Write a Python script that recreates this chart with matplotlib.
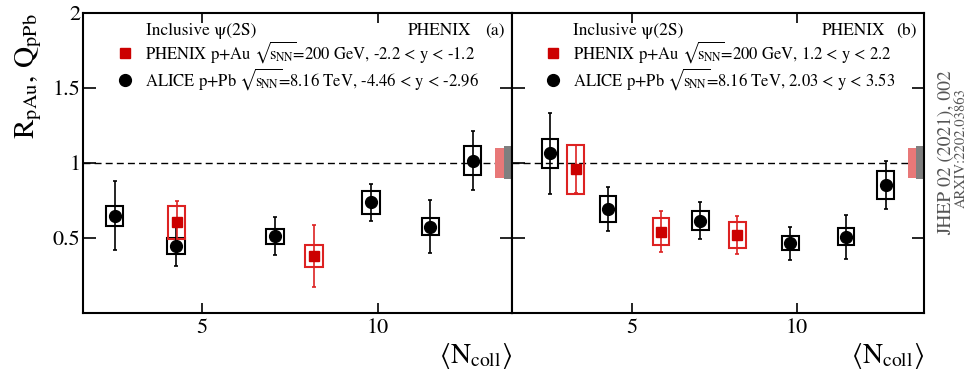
import matplotlib.pyplot as plt
import matplotlib.transforms as mtransforms
from matplotlib.patches import Rectangle

plt.rcParams['font.family'] = ['STIXGeneral', 'DejaVu Sans']
plt.rcParams['mathtext.fontset'] = 'stix'

# <Ncoll> bins shared by both ALICE rapidity ranges
alice_ncoll = [2.53, 4.28, 7.08, 9.81, 11.50, 12.70]

# (a) backward rapidity
alice_bwd_val = [0.649, 0.449, 0.513, 0.738, 0.576, 1.015]
alice_bwd_stat = [0.228, 0.136, 0.129, 0.124, 0.174, 0.198]
alice_bwd_syst = [0.067, 0.054, 0.050, 0.078, 0.054, 0.095]
phenix_bwd_ncoll = [4.29, 8.20]
phenix_bwd_val = [0.604, 0.380]
phenix_bwd_stat = [0.145, 0.204]
phenix_bwd_syst = [0.108, 0.071]

# (b) forward rapidity
alice_fwd_val = [1.064, 0.693, 0.616, 0.464, 0.509, 0.853]
alice_fwd_stat = [0.268, 0.148, 0.122, 0.109, 0.147, 0.159]
alice_fwd_syst = [0.097, 0.084, 0.062, 0.047, 0.056, 0.096]
phenix_fwd_ncoll = [3.30, 5.89, 8.20]
phenix_fwd_val = [0.958, 0.542, 0.520]
phenix_fwd_stat = [0.160, 0.137, 0.125]
phenix_fwd_syst = [0.165, 0.089, 0.086]

# global normalisation uncertainties
phenix_global = 0.10
alice_global = 0.11

y_ticks = [0.5, 1.0, 1.5, 2.0]
y_tick_labels = ['0.5', '1', '1.5', '2']
x_ticks = [5, 10]

RED = '#cc0000'
RED_LINE = '#dd2222'
BOX_HALF = 0.25
SQRT_S = r'$\sqrt{\!\mathrm{s}_{\!\mathrm{NN}}}\!$'


def draw_series(ax, xs, ys, stat, syst, color, line_color, marker, size):
    for x, y, s in zip(xs, ys, syst):
        ax.add_patch(Rectangle((x - BOX_HALF, y - s), 2 * BOX_HALF, 2 * s,
                               fill=False, ec=line_color, lw=1.5, zorder=2))
    ax.errorbar(xs, ys, yerr=stat, fmt='none', ecolor=line_color,
                elinewidth=1.2, capsize=1.5, capthick=1.2, zorder=3)
    handle, = ax.plot(xs, ys, marker, color=color, ms=size, ls='none', zorder=4)
    return handle


def draw_panel(ax, xlim, phenix, alice, phenix_label, alice_label, tag):
    ax.set_xlim(*xlim)
    ax.set_ylim(0, 2)
    ax.axhline(1.0, color='black', lw=1.0, ls=(0, (5, 3)), zorder=1)

    alice_handle = draw_series(ax, alice_ncoll, *alice, 'black', 'black', 'o', 8.5)
    phenix_handle = draw_series(ax, *phenix, RED, RED_LINE, 's', 7)

    # global uncertainty boxes at unity
    trans = mtransforms.blended_transform_factory(ax.transAxes, ax.transData)
    ax.add_patch(Rectangle((0.961, 1 - phenix_global), 0.02, 2 * phenix_global,
                           transform=trans, color='#e87878', lw=0, zorder=2))
    ax.add_patch(Rectangle((0.981, 1 - alice_global), 0.019, 2 * alice_global,
                           transform=trans, color='#7f7f7f', lw=0, zorder=2))

    ax.set_xticks(x_ticks)
    ax.set_yticks(y_ticks)
    ax.tick_params(direction='in', top=True, right=True, width=1.2, labelsize=16)
    ax.tick_params(axis='y', length=9, pad=2)
    ax.tick_params(axis='x', length=7, pad=4)
    for spine in ax.spines.values():
        spine.set_linewidth(1.5)

    ax.set_xlabel(r'$\langle\mathrm{N_{coll}}\rangle$', fontsize=20, loc='right', labelpad=2)

    ax.text(0.148, 0.94, 'Inclusive ψ(2S)', transform=ax.transAxes,
            fontsize=12.5, va='center', ha='left')
    ax.text(0.905, 0.94, 'PHENIX', transform=ax.transAxes,
            fontsize=12.5, va='center', ha='right')
    ax.text(0.983, 0.94, f'({tag})', transform=ax.transAxes,
            fontsize=12.5, va='center', ha='right')
    ax.legend([phenix_handle, alice_handle], [phenix_label, alice_label],
              loc='upper left', bbox_to_anchor=(0.079, 0.912), fontsize=12.0,
              frameon=False, handlelength=1.0, handletextpad=0.7,
              labelspacing=0.05, borderpad=0, borderaxespad=0)


fig = plt.figure(figsize=(9.68, 3.76), dpi=100)
ax_a = fig.add_axes([0.0857, 0.1676, 0.4432, 0.7979])
ax_b = fig.add_axes([0.5289, 0.1676, 0.4256, 0.7979])

draw_panel(ax_a, (1.63, 13.82),
           (phenix_bwd_ncoll, phenix_bwd_val, phenix_bwd_stat, phenix_bwd_syst),
           (alice_bwd_val, alice_bwd_stat, alice_bwd_syst),
           f'PHENIX p+Au {SQRT_S}=200 GeV, -2.2 < y < -1.2',
           f'ALICE p+Pb {SQRT_S}=8.16 TeV, -4.46 < y < -2.96', 'a')
draw_panel(ax_b, (1.37, 13.86),
           (phenix_fwd_ncoll, phenix_fwd_val, phenix_fwd_stat, phenix_fwd_syst),
           (alice_fwd_val, alice_fwd_stat, alice_fwd_syst),
           f'PHENIX p+Au {SQRT_S}=200 GeV, 1.2 < y < 2.2',
           f'ALICE p+Pb {SQRT_S}=8.16 TeV, 2.03 < y < 3.53', 'b')

ax_a.set_yticklabels(y_tick_labels)
ax_b.tick_params(labelleft=False)
ax_a.set_ylabel(r'$\mathrm{R_{pAu},\,Q_{pPb}}$', fontsize=21, loc='top', labelpad=6)

fig.text(0.977, 0.594, 'JHEP 02 (2021), 002', rotation=90, ha='center', va='center',
         color='#555555', fontsize=14)
fig.text(0.9925, 0.605, 'ARXIV:2202.03863', rotation=90, ha='center', va='center',
         color='#555555', fontsize=10.5)

fig.savefig('out.png', dpi=100)
